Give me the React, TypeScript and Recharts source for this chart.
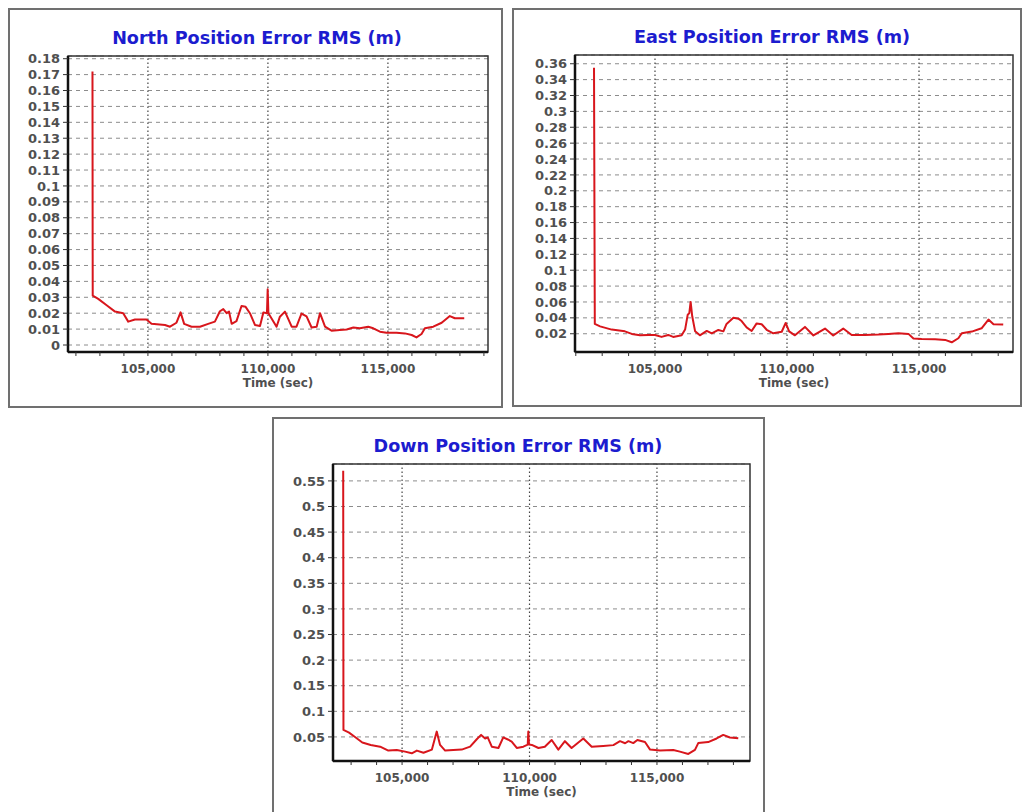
import { LineChart, Line, XAxis, YAxis, CartesianGrid, ReferenceLine, ReferenceArea } from 'recharts';

// [time (sec), RMS error (m)]
type Sample = [number, number];

const NORTH_RMS: Sample[] = [
    [102690, 0.172], [102700, 0.031], [102930, 0.029], [103280, 0.025], [103630, 0.021],
    [103970, 0.020], [104180, 0.0147], [104460, 0.016], [104940, 0.016], [105150, 0.0133],
    [105710, 0.0126], [105920, 0.0115], [106190, 0.014], [106360, 0.0205], [106510, 0.0133],
    [106820, 0.0115], [107170, 0.0115], [107510, 0.0133], [107790, 0.0147], [108000, 0.0212],
    [108140, 0.0226], [108280, 0.020], [108380, 0.021], [108490, 0.0133], [108690, 0.015],
    [108900, 0.0245], [109070, 0.024], [109250, 0.020], [109460, 0.0126], [109670, 0.012],
    [109810, 0.0205], [109960, 0.020], [109990, 0.035], [110020, 0.020], [110360, 0.0115],
    [110500, 0.0178], [110710, 0.021], [110990, 0.0115], [111190, 0.0115], [111400, 0.0198],
    [111610, 0.018], [111820, 0.011], [112030, 0.0115], [112170, 0.020], [112380, 0.0115],
    [112650, 0.009], [113000, 0.0094], [113280, 0.0098], [113560, 0.011], [113830, 0.0105],
    [114180, 0.0115], [114390, 0.0105], [114670, 0.0084], [114940, 0.0077], [115360, 0.0077],
    [115710, 0.0073], [115990, 0.0063], [116190, 0.0048], [116400, 0.0069], [116540, 0.0105],
    [116890, 0.0115], [117240, 0.014], [117580, 0.0182], [117790, 0.0168], [118180, 0.0168],
];

const EAST_RMS: Sample[] = [
    [102690, 0.355], [102720, 0.0324], [102920, 0.0293], [103360, 0.0252], [103860, 0.023],
    [104120, 0.0198], [104430, 0.018], [104750, 0.0185], [105000, 0.0185], [105250, 0.016],
    [105500, 0.0185], [105690, 0.016], [106010, 0.018], [106140, 0.0252], [106240, 0.044],
    [106300, 0.046], [106350, 0.060], [106410, 0.042], [106520, 0.023], [106700, 0.018],
    [106960, 0.0235], [107150, 0.0205], [107400, 0.0248], [107590, 0.023], [107710, 0.0324],
    [107970, 0.040], [108160, 0.039], [108280, 0.036], [108470, 0.028], [108660, 0.0235],
    [108850, 0.033], [109040, 0.032], [109230, 0.025], [109480, 0.0205], [109800, 0.0225],
    [109950, 0.0336], [110080, 0.023], [110300, 0.018], [110680, 0.0286], [111000, 0.0178],
    [111440, 0.0265], [111750, 0.0178], [112130, 0.0265], [112450, 0.0185], [112950, 0.0185],
    [113460, 0.019], [113840, 0.0198], [114220, 0.0206], [114600, 0.0198], [114790, 0.0139],
    [115100, 0.0134], [115610, 0.013], [115990, 0.0122], [116240, 0.0092], [116490, 0.0143],
    [116620, 0.0206], [117000, 0.0227], [117370, 0.0269], [117630, 0.0378], [117820, 0.032],
    [118190, 0.0315],
];

const DOWN_RMS: Sample[] = [
    [102690, 0.57], [102700, 0.0637], [102920, 0.0584], [103180, 0.049], [103440, 0.039],
    [103770, 0.0344], [104140, 0.031], [104460, 0.0233], [104790, 0.0246], [105120, 0.0213],
    [105380, 0.018], [105580, 0.0233], [105840, 0.019], [106170, 0.0253], [106360, 0.0604],
    [106490, 0.0344], [106690, 0.0233], [107010, 0.0246], [107340, 0.0253], [107670, 0.031],
    [107930, 0.0455], [108100, 0.054], [108260, 0.047], [108360, 0.049], [108520, 0.031],
    [108780, 0.0284], [108970, 0.049], [109150, 0.045], [109300, 0.041], [109500, 0.0284],
    [109760, 0.031], [109930, 0.035], [109953, 0.0604], [109980, 0.035], [110090, 0.0344],
    [110350, 0.0284], [110600, 0.031], [110870, 0.044], [111130, 0.0253], [111390, 0.0417],
    [111650, 0.0284], [112110, 0.047], [112440, 0.031], [112890, 0.0324], [113290, 0.034],
    [113550, 0.0417], [113750, 0.0377], [113880, 0.0417], [114070, 0.038], [114230, 0.044],
    [114530, 0.040], [114730, 0.0253], [115120, 0.0233], [115640, 0.0246], [115900, 0.0213],
    [116230, 0.0168], [116490, 0.0246], [116620, 0.038], [117010, 0.040], [117340, 0.047],
    [117600, 0.0539], [117860, 0.049], [118190, 0.0475],
];

const NORTH_TICKS = [0, 0.01, 0.02, 0.03, 0.04, 0.05, 0.06, 0.07, 0.08, 0.09, 0.1, 0.11, 0.12, 0.13, 0.14, 0.15, 0.16, 0.17, 0.18];
const EAST_TICKS = [0.02, 0.04, 0.06, 0.08, 0.1, 0.12, 0.14, 0.16, 0.18, 0.2, 0.22, 0.24, 0.26, 0.28, 0.3, 0.32, 0.34, 0.36];
const DOWN_TICKS = [0.05, 0.1, 0.15, 0.2, 0.25, 0.3, 0.35, 0.4, 0.45, 0.5, 0.55];

// minor ticks every 1000 s, labelled / gridded every 5000 s
const TIME_TICKS = [102000, 103000, 104000, 105000, 106000, 107000, 108000, 109000, 110000, 111000, 112000, 113000, 114000, 115000, 116000, 117000, 118000, 119000];
const TIME_MAJOR = [105000, 110000, 115000];

const AXIS_W = 62;
const AXIS_H = 40;
const PAD = 4;

const FONT = '"DejaVu Sans", Verdana, sans-serif';
const TEXT_GRAY = '#505050';
const TRACE_RED = '#d8161c';

interface Box { x: number; y: number; w: number; h: number }

interface PanelProps {
    title: string;
    data: Sample[];
    frame: Box;
    plot: Box;
    titleX: number;
    titleTop: number;
    xDomain: [number, number];
    yDomain: [number, number];
    yTicks: number[];
}

const fmtY = (v: number) => String(parseFloat(v.toFixed(2)));
const fmtX = (v: number) => (TIME_MAJOR.includes(v) ? v.toLocaleString('en-US') : '');

function ErrorPanel({ title, data, frame, plot, titleX, titleTop, xDomain, yDomain, yTicks }: PanelProps) {
    const rows = data.map(([t, v]) => ({ t, v }));
    const xTicks = TIME_TICKS.filter((t) => t >= xDomain[0] && t <= xDomain[1]);
    const yTickStyle = { fill: TEXT_GRAY, fontSize: 13, fontWeight: 'bold', fontFamily: FONT };
    const xTickStyle = { fill: TEXT_GRAY, fontSize: 12, fontWeight: 'bold', fontFamily: FONT };

    return (
        <>
            <div
                style={{
                    position: 'absolute', left: frame.x, top: frame.y, width: frame.w, height: frame.h,
                    border: '2px solid #707070', boxSizing: 'border-box', background: '#fff',
                }}
            />
            <div
                style={{
                    position: 'absolute', left: titleX - 200, top: titleTop, width: 400, textAlign: 'center',
                    fontFamily: FONT, fontWeight: 'bold', fontSize: 17.6, lineHeight: '20px', color: '#1c1ccf',
                }}
            >
                {title}
            </div>
            <div style={{ position: 'absolute', left: plot.x - AXIS_W, top: plot.y - PAD }}>
                <LineChart
                    width={plot.w + AXIS_W + PAD}
                    height={plot.h + PAD + AXIS_H}
                    data={rows}
                    margin={{ top: PAD, right: PAD, bottom: 0, left: 0 }}
                >
                    <CartesianGrid vertical={false} stroke="#8c8c8c" strokeDasharray="4 4" />
                    {TIME_MAJOR.map((t) => (
                        <ReferenceLine key={t} x={t} stroke="#444" strokeWidth={1.2} strokeDasharray="1.5 2.5" />
                    ))}
                    <ReferenceArea
                        x1={xDomain[0]} x2={xDomain[1]} y1={yDomain[0]} y2={yDomain[1]}
                        fill="none" fillOpacity={0} stroke="#333" strokeWidth={1.5}
                    />
                    <XAxis
                        dataKey="t"
                        type="number"
                        domain={xDomain}
                        allowDataOverflow
                        ticks={xTicks}
                        interval={0}
                        tickFormatter={fmtX}
                        height={AXIS_H}
                        tickSize={4}
                        tickMargin={8}
                        tick={xTickStyle}
                        axisLine={{ stroke: '#111', strokeWidth: 2.5 }}
                        tickLine={{ stroke: '#333' }}
                        label={{ value: 'Time (sec)', position: 'insideBottom', offset: 5, fill: TEXT_GRAY, fontSize: 12, fontWeight: 'bold', fontFamily: FONT }}
                    />
                    <YAxis
                        type="number"
                        domain={yDomain}
                        allowDataOverflow
                        ticks={yTicks}
                        interval={0}
                        tickFormatter={fmtY}
                        width={AXIS_W}
                        tickSize={5}
                        tickMargin={3}
                        tick={yTickStyle}
                        axisLine={{ stroke: '#111', strokeWidth: 2.5 }}
                        tickLine={{ stroke: '#333' }}
                    />
                    <Line
                        type="linear"
                        dataKey="v"
                        stroke={TRACE_RED}
                        strokeWidth={2}
                        strokeLinejoin="round"
                        dot={false}
                        isAnimationActive={false}
                    />
                </LineChart>
            </div>
        </>
    );
}

export default function App() {
    return (
        <div style={{ position: 'absolute', left: 0, top: 0, width: 1024, height: 812, overflow: 'hidden', background: '#fff' }}>
            <ErrorPanel
                title="North Position Error RMS (m)"
                data={NORTH_RMS}
                frame={{ x: 8, y: 8, w: 495, h: 400 }}
                plot={{ x: 68, y: 56, w: 420, h: 296 }}
                titleX={257}
                titleTop={28}
                xDomain={[101670, 119170]}
                yDomain={[-0.0044, 0.1817]}
                yTicks={NORTH_TICKS}
            />
            <ErrorPanel
                title="East Position Error RMS (m)"
                data={EAST_RMS}
                frame={{ x: 512, y: 8, w: 510, h: 399 }}
                plot={{ x: 575, y: 55, w: 438, h: 297 }}
                titleX={772}
                titleTop={27}
                xDomain={[101970, 118560]}
                yDomain={[-0.003, 0.371]}
                yTicks={EAST_TICKS}
            />
            <ErrorPanel
                title="Down Position Error RMS (m)"
                data={DOWN_RMS}
                frame={{ x: 272, y: 417, w: 493, h: 402 }}
                plot={{ x: 333, y: 464, w: 417, h: 297 }}
                titleX={518}
                titleTop={436}
                xDomain={[102290, 118650]}
                yDomain={[0.003, 0.583]}
                yTicks={DOWN_TICKS}
            />
        </div>
    );
}
